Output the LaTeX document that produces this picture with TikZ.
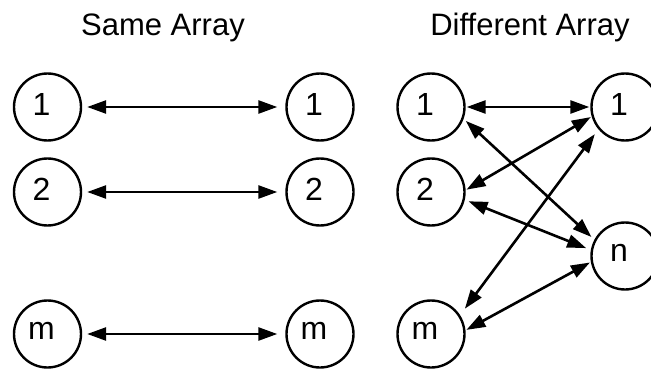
\documentclass[tikz,border=0pt]{standalone}
\usepackage{fontspec}
\setmainfont{Liberation Sans}
\usetikzlibrary{arrows.meta}
\begin{document}
\begin{tikzpicture}[x=1pt,y=-1pt,
  elem/.style={circle,draw,line width=2.4pt,minimum size=67pt,inner sep=0pt},
  title/.style={font=\fontsize{31}{31}\selectfont,anchor=base},
  link/.style={line width=2.6pt,{Triangle[length=19pt,width=13pt]}-{Triangle[length=19pt,width=13pt]}},
  txt/.style={font=\fontsize{32}{32}\selectfont}]
\useasboundingbox (0,0) rectangle (651,369);

% headings
\node[title] (hs) at (163,36) {Same Array};
\node[title] (hd) at (530,36) {Different Array};

% same array: paired elements
\foreach \n/\y/\t in {1/107/1, 2/192/2, m/334/m} {
  \node[elem,label={[txt,xshift=-6pt,yshift=3pt]center:\t}] (a\n) at (47.5,\y) {};
  \node[elem,label={[txt,xshift=-6pt,yshift=3pt]center:\t}] (b\n) at (320,\y) {};
  \draw[link,shorten <=5pt,shorten >=8pt] (a\n.east) -- (b\n.west);
}

% different array: left column
\foreach \n/\y/\t in {1/107/1, 2/192/2, m/334/m}
  \node[elem,label={[txt,xshift=-6pt,yshift=3pt]center:\t}] (l\n) at (431,\y) {};

% different array: right column
\node[elem,label={[txt,xshift=-6pt,yshift=3pt]center:1}] (r1) at (625,107) {};
\node[elem,label={[txt,xshift=-6pt,yshift=3pt]center:n}] (rn) at (625,256) {};

% cross links
\draw[link,shorten <=1pt,shorten >=1pt] (l1.east) -- (r1.west);
\draw[link,shorten <=3pt,shorten >=4pt] (l1.-20) -- (rn.152);
\draw[link,shorten <=1pt,shorten >=1pt] (l2.3) -- (r1.196);
\draw[link,shorten <=4pt,shorten >=5pt] (l2.-13) -- (rn.170);
\draw[link,shorten <=8pt,shorten >=6pt] (lm.33) -- (r1.220);
\draw[link,shorten <=1pt,shorten >=1pt] (lm.6) -- (rn.190);
\end{tikzpicture}
\end{document}
